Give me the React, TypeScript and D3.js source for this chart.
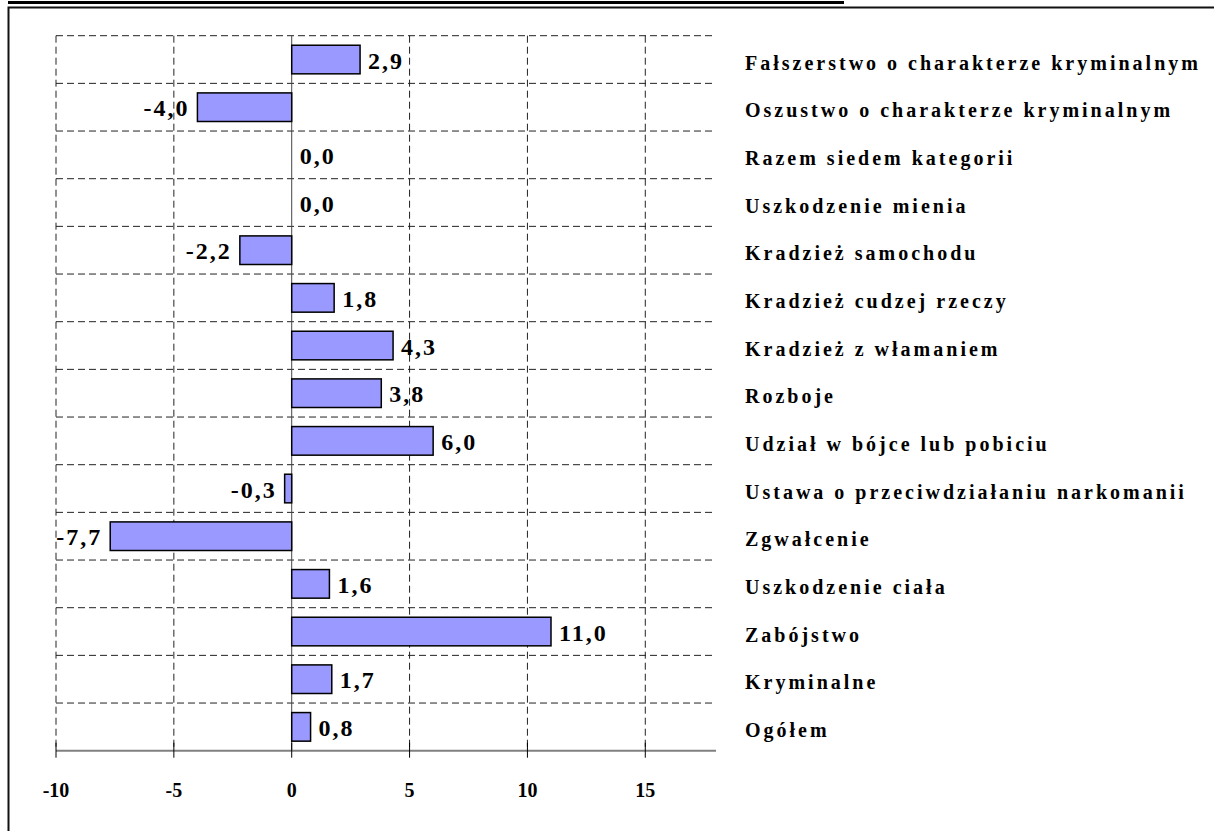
import React, { useEffect, useRef } from 'react';
import * as d3 from 'd3';

const categories = [
  'Fałszerstwo o charakterze kryminalnym',
  'Oszustwo o charakterze kryminalnym',
  'Razem siedem kategorii',
  'Uszkodzenie mienia',
  'Kradzież samochodu',
  'Kradzież cudzej rzeczy',
  'Kradzież z włamaniem',
  'Rozboje',
  'Udział w bójce lub pobiciu',
  'Ustawa o przeciwdziałaniu narkomanii',
  'Zgwałcenie',
  'Uszkodzenie ciała',
  'Zabójstwo',
  'Kryminalne',
  'Ogółem',
];

const values = [2.9, -4.0, 0.0, 0.0, -2.2, 1.8, 4.3, 3.8, 6.0, -0.3, -7.7, 1.6, 11.0, 1.7, 0.8];

const xTicks = [-10, -5, 0, 5, 10, 15];
const xDomain = [-10, 18];

const FONT = '"Liberation Serif", "DejaVu Serif", serif';

const App = () => {
  const svgRef = useRef<SVGSVGElement>(null);

  useEffect(() => {
    const svg = d3.select(svgRef.current);
    svg.selectAll('*').remove();

    const width = 1214;
    const height = 831;
    const top = 35.7;
    const bottom = 750.7;

    const x = d3.scaleLinear().domain(xDomain).range([56, 716]);
    const y = d3.scaleBand<string>()
      .domain(categories)
      .range([top, bottom])
      .paddingInner(0.4)
      .paddingOuter(0.2);
    const step = y.step();

    svg.attr('width', width).attr('height', height);

    // underline of the (cut off) title and frame
    svg.append('line')
      .attr('x1', 8).attr('x2', 844).attr('y1', 2.5).attr('y2', 2.5)
      .attr('stroke', '#000').attr('stroke-width', 3);
    svg.append('path')
      .attr('d', `M8.5,${height + 5} V7.5 H${width + 5}`)
      .attr('fill', 'none').attr('stroke', '#111').attr('stroke-width', 2);

    // horizontal grid (row boundaries)
    svg.append('g')
      .selectAll('line')
      .data(categories)
      .join('line')
      .attr('x1', x(-10)).attr('x2', x(18))
      .attr('y1', d => y(d)! - step * 0.2)
      .attr('y2', d => y(d)! - step * 0.2)
      .attr('stroke', '#222').attr('stroke-width', 1)
      .attr('stroke-dasharray', '7,4');

    // vertical grid
    svg.append('g')
      .selectAll('line')
      .data(xTicks.filter(t => t !== 0))
      .join('line')
      .attr('x1', d => x(d)).attr('x2', d => x(d))
      .attr('y1', top).attr('y2', bottom)
      .attr('stroke', '#222').attr('stroke-width', 1)
      .attr('stroke-dasharray', '7,4');

    // zero line
    svg.append('line')
      .attr('x1', x(0)).attr('x2', x(0))
      .attr('y1', top).attr('y2', bottom)
      .attr('stroke', '#444').attr('stroke-width', 1);

    // bars
    svg.append('g')
      .selectAll('rect')
      .data(values)
      .join('rect')
      .attr('x', d => x(Math.min(0, d)))
      .attr('y', (d, i) => y(categories[i])!)
      .attr('width', d => Math.abs(x(d) - x(0)))
      .attr('height', y.bandwidth())
      .attr('fill', '#9999FF')
      .attr('stroke', '#000')
      .attr('stroke-width', 1.5)
      .style('display', d => (d === 0 ? 'none' : null));

    // value labels
    const fmt = (v: number) => d3.format('.1f')(v).replace('.', ',').replace('−', '-');
    svg.append('g')
      .selectAll('text')
      .data(values)
      .join('text')
      .attr('x', d => (d < 0 ? x(d) - 8 : x(d) + 8))
      .attr('y', (d, i) => y(categories[i])! + y.bandwidth() / 2 + 9)
      .attr('text-anchor', d => (d < 0 ? 'end' : 'start'))
      .style('font-family', FONT)
      .style('font-weight', 'bold')
      .style('font-size', '24px')
      .style('letter-spacing', '2px')
      .attr('fill', '#000')
      .text(d => fmt(d));

    // category labels
    svg.append('g')
      .selectAll('text')
      .data(categories)
      .join('text')
      .attr('x', 745)
      .attr('y', d => y(d)! + y.bandwidth() / 2 + 10)
      .style('font-family', FONT)
      .style('font-weight', 'bold')
      .style('font-size', '20px')
      .style('letter-spacing', '3px')
      .attr('fill', '#000')
      .text(d => d);

    // x axis
    svg.append('line')
      .attr('x1', x(-10)).attr('x2', x(18))
      .attr('y1', bottom).attr('y2', bottom)
      .attr('stroke', '#808080').attr('stroke-width', 2);

    const ax = svg.append('g');
    ax.selectAll('line')
      .data(xTicks)
      .join('line')
      .attr('x1', d => x(d)).attr('x2', d => x(d))
      .attr('y1', bottom - 8).attr('y2', bottom + 7)
      .attr('stroke', '#000').attr('stroke-width', 1);
    ax.selectAll('text')
      .data(xTicks)
      .join('text')
      .attr('x', d => x(d))
      .attr('y', 796.5)
      .attr('text-anchor', 'middle')
      .style('font-family', FONT)
      .style('font-weight', 'bold')
      .style('font-size', '20px')
      .attr('fill', '#000')
      .text(d => String(d));
  }, []);

  return (
    <div style={{ position: 'absolute', left: 0, top: 0, background: '#fff' }}>
      <svg ref={svgRef} style={{ display: 'block' }}></svg>
    </div>
  );
};

export default App;
